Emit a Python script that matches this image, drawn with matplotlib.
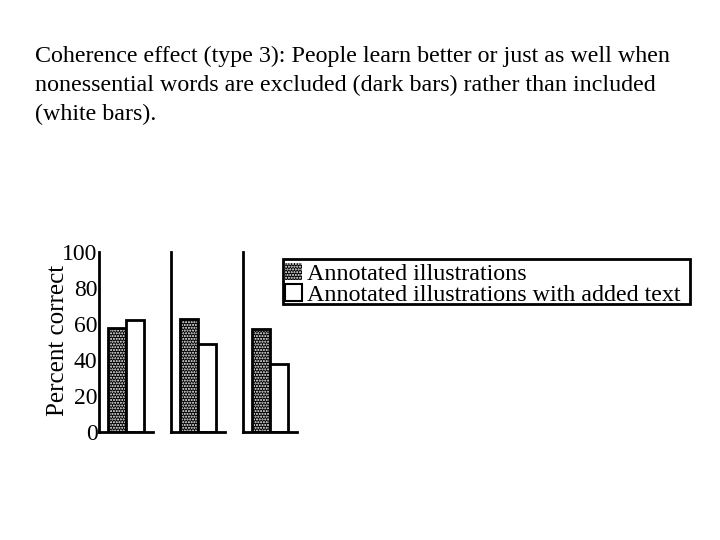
import matplotlib
matplotlib.use("Agg")
import matplotlib.pyplot as plt
from matplotlib.patches import Patch, Rectangle

plt.rcParams["font.family"] = ["Liberation Serif", "DejaVu Serif"]
plt.rcParams["hatch.linewidth"] = 1.0

# values (percent correct)
groups = ["Study 1", "Study 2", "Study 3"]
excluded = [58, 63, 57]   # annotated illustrations (dark bars)
included = [62, 49, 38]   # annotated illustrations with added text (white bars)
yticks = [0, 20, 40, 60, 80, 100]
labels = ["Annotated illustrations", "Annotated illustrations with added text"]
title = ("Coherence effect (type 3): People learn better or just as well when\n"
         "nonessential words are excluded (dark bars) rather than included\n"
         "(white bars).")

fig = plt.figure(figsize=(7.2, 5.4), dpi=100)
fig.text(35 / 720, 1 - 46 / 540, title, fontsize=17.25, va="top", ha="left",
         linespacing=1.47, family=["Liberation Serif", "DejaVu Serif"])

lefts = [99, 171, 243]
for i, left in enumerate(lefts):
    ax = fig.add_axes([left / 720, 108 / 540, 54 / 720, 180 / 540])
    ax.set_xlim(0, 3)
    ax.set_ylim(0, 100)
    # dotted dark bar: black fill with white dots, then black outline
    ax.bar(1, excluded[i], width=1, color="black", edgecolor="white",
           hatch="......", linewidth=0)
    ax.bar(1, excluded[i], width=1, fill=False, edgecolor="black", linewidth=2)
    ax.bar(2, included[i], width=1, color="white", edgecolor="black", linewidth=2)
    for s in ["top", "right"]:
        ax.spines[s].set_visible(False)
    for s in ["left", "bottom"]:
        ax.spines[s].set_linewidth(2)
    ax.set_xticks([])
    ax.patch.set_alpha(0)
    if i == 0:
        ax.set_yticks(yticks)
        ax.tick_params(axis="y", length=0, labelsize=17, pad=1)
        ax.set_ylabel("Percent correct", fontsize=18)
        ax.yaxis.set_label_coords(-0.55, 0.51)
    else:
        ax.set_yticks([])

handles = [
    Patch(facecolor="black", edgecolor="white", hatch="......", linewidth=0),
    Patch(facecolor="white", edgecolor="black", linewidth=1.5),
]
leg = fig.legend(handles, labels, loc="upper left",
                 bbox_to_anchor=(285 / 720, 1 - 263 / 540), fontsize=17.25,
                 frameon=False, handlelength=0.7,
                 handleheight=0.7, handletextpad=0.2, labelspacing=-0.02,
                 borderpad=0.0, borderaxespad=0)
# legend box drawn separately
fig.patches.append(Rectangle((283 / 720, 1 - 304 / 540), 407 / 720, 45 / 540,
                             transform=fig.transFigure, fill=False,
                             edgecolor="black", linewidth=2))

fig.savefig("out.png", dpi=100)
